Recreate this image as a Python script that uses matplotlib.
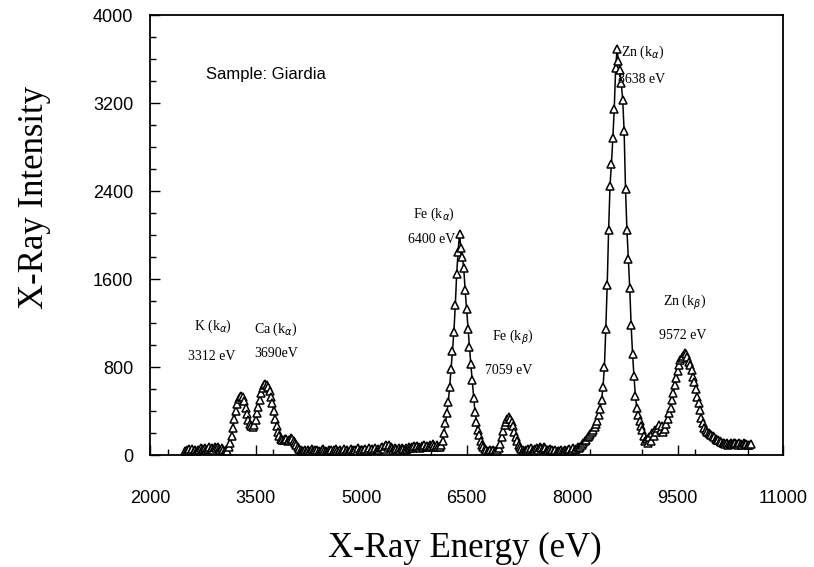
import numpy as np
import matplotlib
matplotlib.use("Agg")
import matplotlib.pyplot as plt
from matplotlib.ticker import MultipleLocator

STEP = 20  # eV per channel

# --- spectrum segments: (start energy in eV, intensities every 20 eV) ---
seg_start = [2500, 3120, 4180, 6120, 6780, 6960, 7300, 8140, 9060, 10000]

int_low = [35, 48, 30, 52, 40, 55, 38, 45, 30, 50, 42, 60, 45, 55, 65, 50,
           58, 70, 55, 62, 48, 70, 60, 75, 55, 45, 60, 50, 35, 45, 40]

int_k_ca = [70, 110, 170, 250, 330, 400, 460, 505, 530, 540, 525, 490, 430,
            370, 320, 285, 260, 255, 275, 320, 380, 440, 500, 560, 610, 635,
            645, 640, 620, 585, 530, 470, 400, 330, 265, 210, 170, 145, 135,
            140, 150, 145, 130, 140, 155, 145, 130, 110, 90, 70, 55, 45, 40]

int_mid = [35, 50, 30, 45, 25, 40, 55, 35, 45, 30, 50, 40, 30, 45, 55, 35,
           40, 30, 50, 38, 45, 30, 42, 55, 40, 35, 48, 30, 40, 52, 38, 45,
           30, 40, 55, 45, 35, 50, 40, 60, 45, 38, 50, 42, 55, 40, 48, 60,
           45, 55, 50, 62, 48, 58, 45, 65, 70, 55, 80, 90, 75, 95, 70, 60,
           50, 65, 55, 45, 60, 50, 65, 55, 48, 62, 55, 70, 60, 75, 65, 80,
           70, 85, 75, 65, 80, 70, 90, 75, 85, 70, 95, 80, 100, 85, 70, 90, 75]

int_fe_a = [70, 90, 130, 200, 290, 380, 480, 620, 780, 950, 1120, 1360, 1650,
            1850, 2010, 1880, 1800, 1700, 1500, 1330, 1150, 980, 830, 680,
            520, 390, 300, 230, 180, 130, 95, 70, 55]

int_gap = [45, 40, 30, 45, 35, 50, 40, 30, 45]

int_fe_b = [60, 100, 160, 220, 270, 300, 330, 345, 330, 300, 260, 210, 165,
            125, 90, 70, 55]

int_base2 = [45, 40, 50, 35, 55, 45, 60, 50, 40, 55, 65, 50, 70, 60, 55, 75,
             60, 50, 45, 55, 40, 50, 35, 45, 30, 40, 35, 45, 30, 40, 50, 35,
             45, 55, 40, 50, 60, 45, 55, 70, 60, 75]

int_zn_a = [90, 110, 125, 140, 160, 175, 190, 205, 225, 255, 285, 310, 360,
            420, 500, 620, 800, 1150, 1550, 2050, 2450, 2650, 2880, 3150,
            3520, 3690, 3580, 3500, 3380, 3230, 2950, 2420, 2050, 1780, 1520,
            1180, 920, 720, 540, 430, 360, 310, 260, 225, 170, 130]

int_zn_b = [150, 110, 160, 130, 200, 170, 230, 210, 250, 270, 230, 260, 210,
            240, 280, 330, 380, 430, 500, 560, 640, 700, 760, 820, 860, 880,
            900, 930, 920, 890, 850, 820, 770, 710, 660, 600, 530, 470, 410,
            340, 290, 250, 225, 210, 200, 190, 180]

int_tail = [170, 160, 150, 140, 135, 128, 120, 112, 105, 100, 108, 95, 102,
            110, 98, 105, 112, 100, 95, 108, 100, 92, 105, 98, 102, 95, 90, 98]

segments = [int_low, int_k_ca, int_mid, int_fe_a, int_gap, int_fe_b,
            int_base2, int_zn_a, int_zn_b, int_tail]

energy = np.concatenate([s + STEP * np.arange(len(v))
                         for s, v in zip(seg_start, segments)])
intensity = np.concatenate([np.asarray(v, float) for v in segments])
order = np.argsort(energy, kind="stable")
energy, intensity = energy[order], intensity[order]

# annotations: (text, energy, intensity)
peak_labels = [
    ("K (k$_\\alpha$)", 2890, 1170),
    ("3312 eV", 2870, 900),
    ("Ca (k$_\\alpha$)", 3790, 1140),
    ("3690eV", 3790, 920),
    ("Fe (k$_\\alpha$)", 6040, 2190),
    ("6400 eV", 6000, 1960),
    ("Fe (k$_\\beta$)", 7160, 1070),
    ("7059 eV", 7100, 770),
    ("Zn (k$_\\alpha$)", 9010, 3660),
    ("8638 eV", 8990, 3410),
    ("Zn (k$_\\beta$)", 9600, 1390),
    ("9572 eV", 9580, 1090),
]

x_ticks = [2000, 3500, 5000, 6500, 8000, 9500, 11000]
y_ticks = [0, 800, 1600, 2400, 3200, 4000]

fig = plt.figure(figsize=(8.14, 5.67), dpi=100)
ax = fig.add_axes([0.1843, 0.1975, 0.7777, 0.776])

ax.plot(energy, intensity, color="black", lw=1.1, marker="^", ms=5.5,
        mfc="white", mec="black", mew=1.1)

ax.set_xlim(2000, 11000)
ax.set_ylim(0, 4000)
ax.set_xticks(x_ticks)
ax.set_yticks(y_ticks)
ax.xaxis.set_minor_locator(MultipleLocator(750))
ax.yaxis.set_minor_locator(MultipleLocator(200))
ax.tick_params(which="both", direction="in", top=False, right=False)
ax.tick_params(which="major", length=7, width=1)
ax.tick_params(which="minor", length=4, width=1)
ax.tick_params(axis="x", which="major", pad=25)
ax.tick_params(axis="y", which="major", pad=12)
for lab in ax.get_xticklabels() + ax.get_yticklabels():
    lab.set_fontfamily("Liberation Sans")
    lab.set_fontsize(13)
for sp in ax.spines.values():
    sp.set_linewidth(1.3)

ax.text(2790, 3455, "Sample: Giardia", family="Liberation Sans", fontsize=12,
        ha="left", va="center")
for txt, ex, iy in peak_labels:
    ax.text(ex, iy, txt, family="Liberation Serif", fontsize=10,
            ha="center", va="center")

fig.text(35 / 814, 1 - 197 / 567, "X-Ray Intensity", family="Liberation Serif",
         fontsize=25, rotation=90, ha="center", va="center")
fig.text(465 / 814, 1 - 548 / 567, "X-Ray Energy (eV)",
         family="Liberation Serif", fontsize=25, ha="center", va="center")

fig.savefig("out.png", dpi=100)
